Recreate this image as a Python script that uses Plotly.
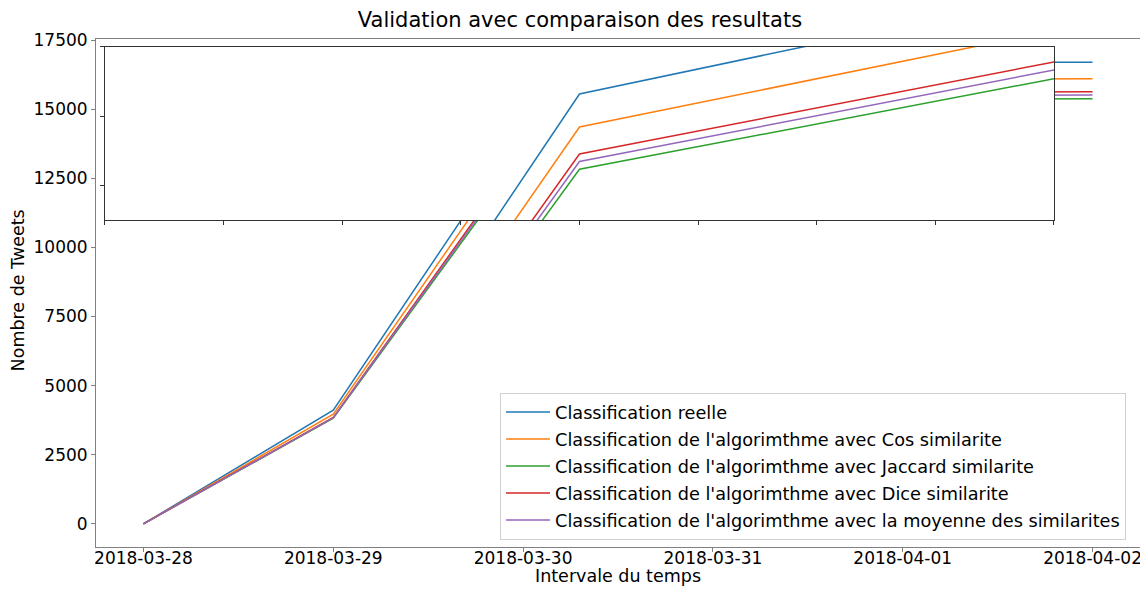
import plotly.graph_objects as go

# Dates of the measures
dates = ['2018-03-28', '2018-03-29', '2018-03-30', '2018-03-31', '2018-04-01', '2018-04-02']

# Number of tweets for each classification
reelle = [0, 4111, 14321, 15764, 16690, 16703]
cos_sim = [0, 3966, 13844, 15238, 16090, 16100]
jaccard_sim = [0, 3820, 13233, 14542, 15370, 15376]
dice_sim = [0, 3850, 13454, 14783, 15620, 15630]
moyenne_sim = [0, 3835, 13345, 14668, 15500, 15510]

names = ["Classification reelle",
         "Classification de l'algorimthme avec Cos similarite",
         "Classification de l'algorimthme avec Jaccard similarite",
         "Classification de l'algorimthme avec Dice similarite",
         "Classification de l'algorimthme avec la moyenne des similarites"]
series = [reelle, cos_sim, jaccard_sim, dice_sim, moyenne_sim]
colors = ['#1f77b4', '#ff7f0e', '#2ca02c', '#d62728', '#9467bd']

fig = go.Figure()

# main plot
for name, values, color in zip(names, series, colors):
    fig.add_trace(go.Scatter(x=dates, y=values, mode='lines', name=name,
                             line=dict(color=color, width=1.5),
                             legendgroup=name))

# zoomed inset (same data)
for name, values, color in zip(names, series, colors):
    fig.add_trace(go.Scatter(x=dates, y=values, mode='lines', name=name,
                             line=dict(color=color, width=1.5),
                             xaxis='x2', yaxis='y2', showlegend=False))

font = dict(family='DejaVu Sans', size=17.5, color='black')

# the page body has an 8px margin, so the figure is made smaller to fit
fig.update_layout(
    width=1132, height=578,
    margin=dict(l=88, r=0, t=31, b=39, autoexpand=False),
    plot_bgcolor='white', paper_bgcolor='white',
    font=font,
    title=dict(text='Validation avec comparaison des resultats',
               font=dict(family='DejaVu Sans', size=21, color='black'),
               xref='paper', x=0.4636, xanchor='center',
               yref='container', y=1 - 12 / 578, yanchor='middle'),
    xaxis=dict(type='date', range=['2018-03-27 18:00', '2018-04-02 06:00'],
               tick0='2018-03-28', dtick=86400000, tickformat='%Y-%m-%d',
               showgrid=False, zeroline=False, showline=True, mirror=True,
               linecolor='#808080', linewidth=1, ticks='outside', ticklen=4,
               tickcolor='#808080', automargin=False, ticklabelstandoff=-8,
               ticklabeloverflow='allow',
               tickfont=dict(family='DejaVu Sans', size=17, color='black')),
    yaxis=dict(range=[-840, 17540], tick0=0, dtick=2500, tickformat='d',
               showgrid=False, zeroline=False, showline=True, mirror=True,
               linecolor='#808080', linewidth=1, ticks='outside', ticklen=4,
               tickcolor='#808080', automargin=False,
               tickfont=dict(family='DejaVu Sans', size=17, color='black')),
    xaxis2=dict(type='date', range=['2018-03-29', '2018-03-31'],
                domain=[0.0086, 0.9176], anchor='y2',
                tick0='2018-03-29', dtick=21600000, showticklabels=False,
                showgrid=False, zeroline=False, showline=True, mirror=True,
                linecolor='#333333', linewidth=1, ticks='outside', ticklen=4,
                tickcolor='#333333'),
    yaxis2=dict(range=[12500, 15000], domain=[0.6437, 0.9843], anchor='x2',
                tick0=0, dtick=1000, showticklabels=False,
                showgrid=False, zeroline=False, showline=True, mirror=True,
                linecolor='#333333', linewidth=1, ticks='outside', ticklen=4,
                tickcolor='#333333'),
    legend=dict(x=0.387, y=0.0138, xanchor='left', yanchor='bottom',
                bgcolor='rgba(255,255,255,0.8)', bordercolor='#d0d0d0',
                borderwidth=1, tracegroupgap=1, itemwidth=44,
                font=dict(family='DejaVu Sans', size=17.7, color='black')),
    annotations=[
        dict(text='Intervale du temps', xref='paper', yref='paper',
             x=0.5, y=-0.058, xanchor='center', yanchor='middle',
             showarrow=False, font=dict(family='DejaVu Sans', size=17.5)),
        dict(text='Nombre de Tweets', xref='paper', yref='paper',
             x=-0.0738, y=0.505, xanchor='center', yanchor='middle',
             textangle=-90, showarrow=False,
             font=dict(family='DejaVu Sans', size=17.5)),
    ],
)

fig.write_html("out.html")
